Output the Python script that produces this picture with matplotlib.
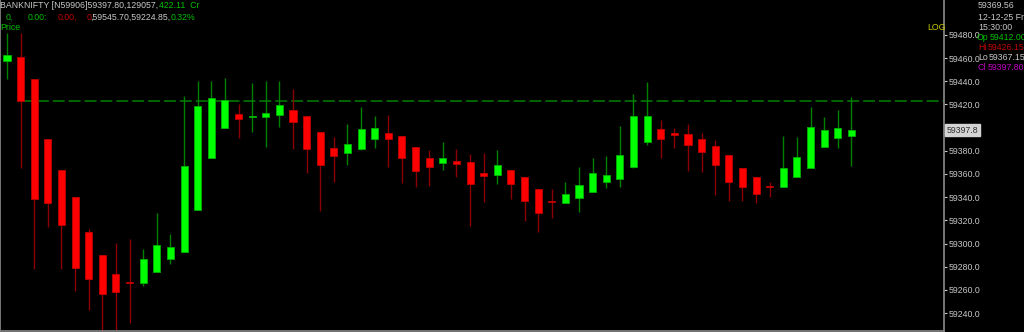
import numpy as np
import matplotlib
matplotlib.use("Agg")
from matplotlib import pyplot as plt

# 63 intraday candles
opens = [59457.3, 59460.7, 59441.8, 59390.5, 59363.4, 59339.9, 59309.9, 59289.8, 59273.4, 59266.5,
         59265.6, 59275.7, 59286.9, 59292.4, 59329.2, 59373.6, 59399.5, 59411.8, 59409.2, 59409.5,
         59410.9, 59415.3, 59410.3, 59396.3, 59382.2, 59378.4, 59381.8, 59390.0, 59395.1, 59392.8,
         59383.3, 59373.5, 59369.5, 59371.5, 59370.4, 59360.9, 59359.4, 59363.4, 59357.1, 59347.3,
         59336.3, 59335.2, 59339.5, 59344.7, 59353.1, 59355.9, 59365.8, 59387.6, 59399.1, 59395.1,
         59394.5, 59390.2, 59384.4, 59376.1, 59364.9, 59357.1, 59349.2, 59348.8, 59357.1, 59365.4,
         59383.0, 59390.8, 59393.0]
highs = [59481.5, 59481.5, 59442.0, 59390.5, 59363.4, 59339.9, 59312.3, 59289.8, 59300.2, 59303.6,
         59295.5, 59326.3, 59307.9, 59427.6, 59440.3, 59440.5, 59442.9, 59420.4, 59438.8, 59440.0,
         59440.3, 59433.4, 59410.3, 59396.3, 59391.7, 59403.2, 59417.6, 59410.3, 59411.2, 59392.8,
         59383.3, 59380.7, 59387.9, 59381.6, 59377.3, 59378.1, 59380.7, 59363.4, 59357.1, 59347.3,
         59347.0, 59352.8, 59365.8, 59373.5, 59375.5, 59401.7, 59429.1, 59439.4, 59406.9, 59400.0,
         59403.2, 59395.1, 59389.4, 59376.1, 59364.9, 59357.1, 59353.1, 59392.8, 59392.2, 59418.1,
         59409.0, 59415.2, 59426.15]
lows = [59441.8, 59364.9, 59278.0, 59314.0, 59278.0, 59259.3, 59242.6, 59224.85, 59225.5, 59231.0,
        59263.3, 59275.7, 59282.0, 59292.4, 59329.2, 59373.6, 59399.5, 59391.1, 59396.0, 59383.0,
        59400.8, 59381.6, 59361.1, 59328.0, 59352.8, 59367.8, 59381.0, 59382.2, 59365.8, 59352.0,
        59349.0, 59349.9, 59363.4, 59357.0, 59315.4, 59335.8, 59351.4, 59338.4, 59319.7, 59310.2,
        59321.8, 59335.0, 59327.4, 59344.5, 59348.2, 59349.0, 59365.0, 59384.8, 59373.6, 59382.2,
        59362.8, 59362.0, 59342.1, 59336.4, 59336.4, 59335.2, 59340.4, 59348.7, 59357.0, 59365.0,
        59383.0, 59382.2, 59367.15]
closes = [59463.0, 59423.0, 59338.7, 59335.2, 59316.0, 59279.1, 59269.3, 59256.4, 59258.4, 59266.0,
          59286.4, 59298.4, 59297.2, 59366.9, 59418.7, 59425.9, 59423.6, 59407.2, 59409.7, 59412.4,
          59419.6, 59404.9, 59381.8, 59367.8, 59375.3, 59385.6, 59398.6, 59399.7, 59390.0, 59373.5,
          59362.8, 59365.8, 59373.8, 59368.9, 59351.1, 59358.3, 59367.5, 59351.1, 59336.4, 59326.1,
          59335.8, 59343.0, 59350.2, 59360.9, 59358.9, 59376.1, 59410.3, 59410.3, 59390.5, 59393.9,
          59385.3, 59379.0, 59368.0, 59353.1, 59348.8, 59342.5, 59349.0, 59364.9, 59374.4, 59400.8,
          59398.0, 59399.4, 59397.8]

yticks = list(range(59240, 59481, 20))
ref_level = 59423.0

W, H = 1024, 332
FONT = "Liberation Sans"
FS = 6.3

fig = plt.figure(figsize=(W / 100, H / 100), dpi=100, facecolor="black")
ax = fig.add_axes([0, 1.5 / H, 944 / W, 1 - 1.5 / H])
ax.set_facecolor("black")

o = np.array(opens)
c = np.array(closes)
hi = np.array(highs)
lo = np.array(lows)
idx = np.arange(len(o))
up = c >= o

# wicks
ax.vlines(idx[up], lo[up], hi[up], color="#008000", lw=1.0, zorder=2)
ax.vlines(idx[~up], lo[~up], hi[~up], color="#8b0000", lw=1.0, zorder=2)

# bodies (give dojis a minimum thickness so they stay visible)
height = np.abs(c - o)
mid = (c + o) / 2
height = np.maximum(height, 1.3)
bottom = mid - height / 2
ax.bar(idx[up], height[up], bottom=bottom[up], width=0.52,
       color="#00ff00", edgecolor="#00b000", lw=0.6, zorder=3)
ax.bar(idx[~up], height[~up], bottom=bottom[~up], width=0.52,
       color="#ff0000", edgecolor="#c00000", lw=0.6, zorder=3)

ax.set_xlim(-0.514, 68.8)
ax.set_ylim(59224.9, 59510.2)

ax.hlines(ref_level, 1, 68.8, colors="#008000", lw=1.1,
          linestyles=(0, (7.8, 2.6)), zorder=1)

# right price scale
ax.yaxis.tick_right()
ax.set_yticks(yticks)
ax.set_yticklabels([f"{v:.1f}" for v in yticks])
ax.tick_params(axis="y", colors="#c8c8c8", length=2, width=0.8, pad=1,
               labelsize=FS)
for lab in ax.get_yticklabels():
    lab.set_fontfamily(FONT)
ax.set_xticks([])

for side in ["left", "bottom", "right"]:
    ax.spines[side].set_color("#808080")
    ax.spines[side].set_linewidth(1.3)
ax.spines["top"].set_visible(False)

# last price tag
ax.annotate(f"{closes[-1]:.1f}", xy=(1, closes[-1]), xycoords=("axes fraction", "data"),
            xytext=(2, 0), textcoords="offset points", va="center", ha="left",
            fontsize=FS, family=FONT, color="#303030", annotation_clip=False, zorder=10,
            bbox=dict(boxstyle="square,pad=0.15", fc="#d4d4d4", ec="#d4d4d4"))


def put(x, y, s, color):
    fig.text(x / W, 1 - y / H, s, color=color, fontsize=FS, family=FONT,
             va="center", ha="left")


GRAY = "#c8c8c8"
GREEN = "#00c000"
RED = "#c00000"

# header
put(0, 6, "BANKNIFTY [N59906]59397.80,129057,", GRAY)
put(159, 6, "422.11  Cr", GREEN)
put(6, 17, "0,", GREEN)
put(28, 17, "0.00:", GREEN)
put(58, 17, "0.00,", RED)
put(87, 17, "0", RED)
put(90, 17, ",59545.70,59224.85,", GRAY)
put(171, 17, "0.32%", GREEN)
put(0, 28, "Price", GREEN)

put(927, 28, "LOG", "#c8c800")

# info panel on the price scale
put(978, 6, "59369.56", GRAY)
put(978, 17, "12-12-25 Fri", GRAY)
put(978, 28, "15:30:00", GRAY)
put(977, 38, "Op", GREEN)
put(990, 38, "59412.00", GREEN)
put(978, 48, "Hi", RED)
put(988, 48, "59426.15", RED)
put(978, 57, "Lo", GRAY)
put(989, 57, "59367.15", GRAY)
put(978, 67, "Cl", "#c000c0")
put(988, 67, "59397.80", "#c000c0")

fig.savefig("out.png", dpi=100, facecolor="black")
plt.close(fig)
